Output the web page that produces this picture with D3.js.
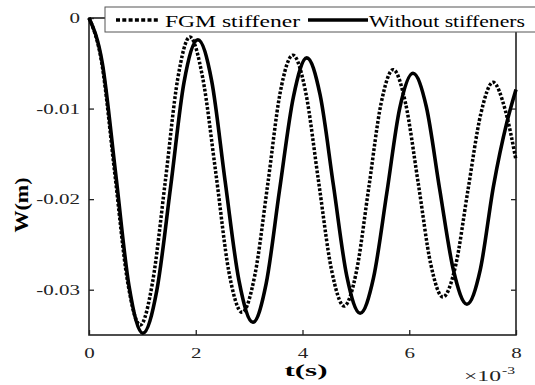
<!DOCTYPE html>
<html>
<head>
<meta charset="utf-8">
<script src="https://cdn.jsdelivr.net/npm/d3@7"></script>
<style>
  body { margin: 0; background: #fff; }
  svg { display: block; }
</style>
</head>
<body>
<div id="chart"></div>
<script>
// time in ms (axis shows x 10^-3 s), deflection W in m
var fgmT = [0, 0.24, 0.48, 0.72, 0.96, 1.19, 1.43, 1.66, 1.89, 2.13, 2.38, 2.62, 2.87, 3.11, 3.35, 3.58, 3.82,
            4.06, 4.30, 4.54, 4.78, 5.01, 5.24, 5.47, 5.70, 5.93, 6.17, 6.40, 6.63, 6.87, 7.10, 7.34, 7.57, 7.80, 8.0];
var fgmW = [0, -0.0050, -0.0170, -0.0290, -0.0339, -0.0292, -0.0180, -0.0068, -0.0021, -0.0066, -0.0173, -0.0280,
            -0.0325, -0.0283, -0.0183, -0.0083, -0.0041, -0.0082, -0.0180, -0.0277, -0.0318, -0.0280, -0.0188,
            -0.0095, -0.0057, -0.0094, -0.0183, -0.0271, -0.0308, -0.0273, -0.0190, -0.0106, -0.0071, -0.0102, -0.0157];

var noStiffT = [0, 0.25, 0.50, 0.75, 1.01, 1.27, 1.53, 1.78, 2.04, 2.30, 2.55, 2.81, 3.07, 3.32, 3.57, 3.83, 4.08,
                4.33, 4.58, 4.83, 5.08, 5.33, 5.58, 5.82, 6.07, 6.32, 6.57, 6.83, 7.08, 7.33, 7.58, 7.83, 8.0];
var noStiffW = [0, -0.0050, -0.0172, -0.0296, -0.0348, -0.0301, -0.0186, -0.0071, -0.0024, -0.0070, -0.0180,
                -0.0290, -0.0336, -0.0293, -0.0190, -0.0087, -0.0044, -0.0085, -0.0185, -0.0285, -0.0326, -0.0287,
                -0.0193, -0.0100, -0.0061, -0.0098, -0.0189, -0.0279, -0.0316, -0.0278, -0.0185, -0.0115, -0.0079];

var xTicks = [0, 2, 4, 6, 8];
var yTicks = [0, -0.01, -0.02, -0.03];
var yTickLabels = ["0", "-0.01", "-0.02", "-0.03"];
var seriesNames = ["FGM stiffener", "Without stiffeners"];

// SVG size and plot box
var svgWidth = 535;
var svgHeight = 385;
var margin = { top: 18, right: 19, bottom: 50, left: 89 };
var plotW = svgWidth - margin.left - margin.right;
var plotH = svgHeight - margin.top - margin.bottom;

var serif = "'Liberation Serif', 'Times New Roman', serif";
var stretch = 1.4; // text in the figure is drawn wide

var svg = d3.select("#chart")
  .append("svg")
  .attr("width", svgWidth)
  .attr("height", svgHeight);

var g = svg.append("g")
  .attr("transform", `translate(${margin.left},${margin.top})`);

var x = d3.scaleLinear().domain([0, 8]).range([0, plotW]);
var y = d3.scaleLinear().domain([-0.035, 0]).range([plotH, 0]);

// bottom axis
var xAxis = g.append("g")
  .attr("transform", `translate(0,${plotH})`)
  .call(d3.axisBottom(x).tickValues(xTicks).tickSize(-5).tickPadding(12).tickFormat(d => d));
// left axis
var yAxis = g.append("g")
  .call(d3.axisLeft(y).tickValues(yTicks).tickSize(-5).tickPadding(9)
    .tickFormat((d, i) => yTickLabels[i]));
// right axis, ticks only
var yAxisR = g.append("g")
  .attr("transform", `translate(${plotW},0)`)
  .call(d3.axisRight(y).tickValues(yTicks).tickSize(-5).tickFormat(""));

[xAxis, yAxis, yAxisR].forEach(function(a) {
  a.select(".domain").remove();
  a.selectAll("line").attr("stroke", "#222").attr("stroke-width", 1.3);
  a.selectAll("text")
    .attr("fill", "#222")
    .style("font-family", serif)
    .style("font-size", "15px");
});
xAxis.selectAll("text").attr("transform", `scale(${stretch},1)`);
yAxis.selectAll("text")
  .attr("x", -9 / stretch)
  .attr("transform", `scale(${stretch},1)`);

// box
g.append("rect")
  .attr("x", 0).attr("y", 0)
  .attr("width", plotW).attr("height", plotH)
  .attr("fill", "none")
  .attr("stroke", "#222")
  .attr("stroke-width", 1.6);

// curves
var line = d3.line()
  .x(d => x(d[0]))
  .y(d => y(d[1]))
  .curve(d3.curveMonotoneX);

var fgmData = fgmT.map((t, i) => [t, fgmW[i]]);
var noStiffData = noStiffT.map((t, i) => [t, noStiffW[i]]);

g.append("path")
  .datum(fgmData)
  .attr("d", line)
  .attr("fill", "none")
  .attr("stroke", "#000")
  .attr("stroke-width", 3.5)
  .attr("stroke-dasharray", "2.8,1.8");

g.append("path")
  .datum(noStiffData)
  .attr("d", line)
  .attr("fill", "none")
  .attr("stroke", "#000")
  .attr("stroke-width", 3.6);

// legend
var leg = svg.append("g");
leg.append("rect")
  .attr("x", 105).attr("y", 7)
  .attr("width", 450).attr("height", 25)
  .attr("fill", "#fff")
  .attr("stroke", "#555")
  .attr("stroke-width", 1);
leg.append("line")
  .attr("x1", 116).attr("x2", 160)
  .attr("y1", 20).attr("y2", 20)
  .attr("stroke", "#000").attr("stroke-width", 3.5)
  .attr("stroke-dasharray", "4,2.3");
leg.append("text")
  .attr("x", 165).attr("y", 27)
  .attr("textLength", 135).attr("lengthAdjust", "spacingAndGlyphs")
  .style("font-family", serif).style("font-size", "17px")
  .text(seriesNames[0]);
leg.append("line")
  .attr("x1", 308).attr("x2", 368)
  .attr("y1", 20).attr("y2", 20)
  .attr("stroke", "#000").attr("stroke-width", 3.5);
leg.append("text")
  .attr("x", 369).attr("y", 27)
  .attr("textLength", 156).attr("lengthAdjust", "spacingAndGlyphs")
  .style("font-family", serif).style("font-size", "17px")
  .text(seriesNames[1]);

// axis labels
svg.append("text")
  .attr("x", 306).attr("y", 376)
  .attr("text-anchor", "middle")
  .attr("textLength", 43).attr("lengthAdjust", "spacingAndGlyphs")
  .style("font-family", serif).style("font-size", "17px").style("font-weight", "bold")
  .text("t(s)");

svg.append("text")
  .attr("transform", "translate(28,205) rotate(-90)")
  .attr("text-anchor", "middle")
  .attr("textLength", 55).attr("lengthAdjust", "spacingAndGlyphs")
  .style("font-family", serif).style("font-size", "18px").style("font-weight", "bold")
  .text("W(m)");

// exponent note
svg.append("text")
  .attr("x", 464).attr("y", 381)
  .attr("textLength", 37).attr("lengthAdjust", "spacingAndGlyphs")
  .style("font-family", serif).style("font-size", "15px").attr("fill", "#222")
  .text("\u00d710");
svg.append("text")
  .attr("x", 502).attr("y", 374)
  .attr("textLength", 13).attr("lengthAdjust", "spacingAndGlyphs")
  .style("font-family", serif).style("font-size", "11px").attr("fill", "#222")
  .text("-3");
</script>
</body>
</html>
